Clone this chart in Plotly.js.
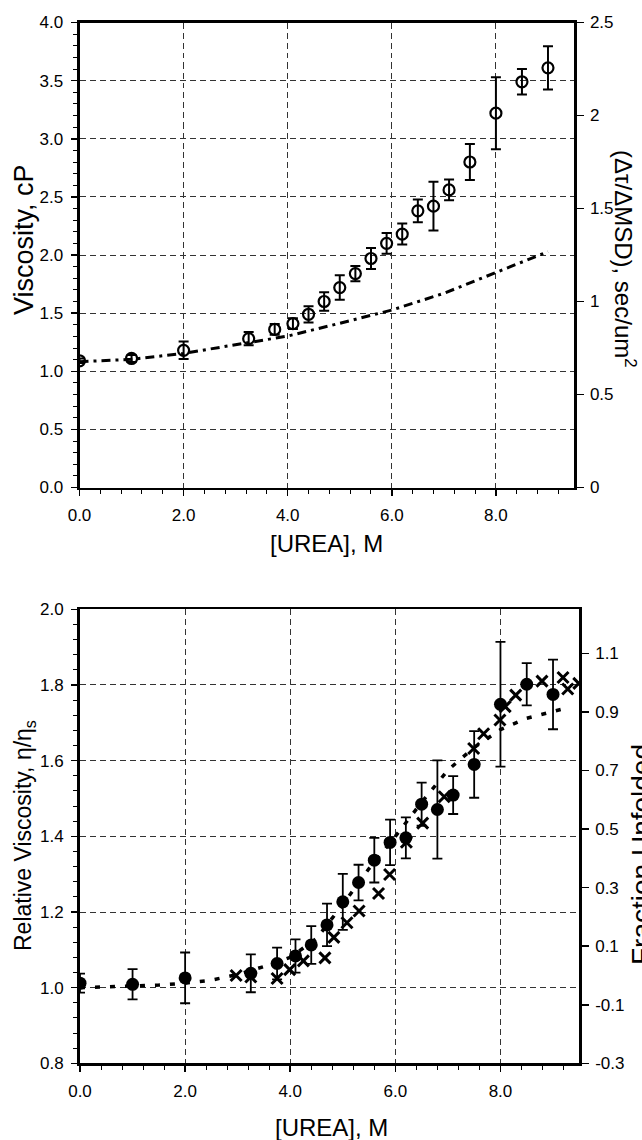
<!DOCTYPE html>
<html>
<head>
<meta charset="utf-8">
<script src="https://cdn.plot.ly/plotly-3.0.1.min.js"></script>
<style>
  html, body { margin: 0; padding: 0; background: #fff; }
  #chart { width: 642px; height: 1140px; }
</style>
</head>
<body>
<div id="chart"></div>
<script>
// ---------- Top panel: viscosity vs urea ----------
const ureaTop = [0, 1, 2, 3.25, 3.75, 4.1, 4.4, 4.7, 5.0, 5.3, 5.6, 5.9, 6.2, 6.5, 6.8, 7.1, 7.5, 8.0, 8.5, 9.0];
const viscTop = [1.09, 1.11, 1.18, 1.28, 1.36, 1.41, 1.49, 1.60, 1.72, 1.84, 1.97, 2.10, 2.18, 2.38, 2.42, 2.56, 2.80, 3.22, 3.49, 3.61];
const viscTopErr = [0.02, 0.03, 0.075, 0.057, 0.046, 0.046, 0.07, 0.08, 0.105, 0.065, 0.09, 0.09, 0.09, 0.098, 0.21, 0.09, 0.155, 0.31, 0.11, 0.186];
// dash-dot curve, right axis (Δτ/ΔMSD)
const msdX = [0, 1, 2, 3, 4, 5, 6, 7, 8, 9];
const msdY = [0.676, 0.689, 0.721, 0.769, 0.814, 0.883, 0.954, 1.044, 1.155, 1.268];

// ---------- Bottom panel: relative viscosity & fraction unfolded ----------
const ureaBot = [0, 1, 2, 3.25, 3.75, 4.1, 4.4, 4.7, 5.0, 5.3, 5.6, 5.9, 6.2, 6.5, 6.8, 7.1, 7.5, 8.0, 8.5, 9.0];
const relVisc = [1.012, 1.009, 1.026, 1.038, 1.064, 1.084, 1.113, 1.166, 1.227, 1.278, 1.337, 1.384, 1.396, 1.485, 1.471, 1.509, 1.590, 1.749, 1.802, 1.775];
const relViscErr = [0.025, 0.04, 0.067, 0.05, 0.042, 0.044, 0.05, 0.056, 0.074, 0.047, 0.059, 0.06, 0.054, 0.057, 0.13, 0.05, 0.088, 0.165, 0.056, 0.092];
const unfoldX = [2.97, 3.25, 3.75, 3.99, 4.25, 4.66, 4.83, 5.08, 5.31, 5.68, 5.89, 6.21, 6.52, 6.93, 7.49, 7.68, 7.99, 8.09, 8.29, 8.79, 9.19, 9.28, 9.49];
const unfoldY = [0.00, -0.005, -0.01, 0.02, 0.05, 0.06, 0.13, 0.18, 0.22, 0.28, 0.345, 0.455, 0.52, 0.61, 0.775, 0.825, 0.872, 0.918, 0.957, 1.005, 1.017, 0.978, 0.997];
const fitX = [0, 0.5, 1.0, 1.5, 2.0, 2.5, 3.0, 3.5, 4.0, 4.5, 5.0, 5.5, 6.0, 6.5, 7.0, 7.5, 8.0, 8.5, 9.0, 9.3];
const fitY = [1.000, 1.002, 1.004, 1.007, 1.012, 1.020, 1.035, 1.056, 1.080, 1.130, 1.220, 1.315, 1.400, 1.490, 1.575, 1.635, 1.682, 1.712, 1.730, 1.741];

// tick labels
const xTickVals = [0, 2, 4, 6, 8];
const xTickText = ['0.0', '2.0', '4.0', '6.0', '8.0'];
const topRightVals = [0, 0.5, 1, 1.5, 2, 2.5];
const topRightText = ['0', '0.5', '1', '1.5', '2', '2.5'];
const botRightVals = [-0.3, -0.1, 0.1, 0.3, 0.5, 0.7, 0.9, 1.1];
const botRightText = ['-0.3', '-0.1', '0.1', '0.3', '0.5', '0.7', '0.9', '1.1'];

const FONT = 'Liberation Sans, Arial, Helvetica, sans-serif';
const W = 642, H = 1140;
const px = v => v / W;
const py = v => 1 - v / H;

const traces = [
  { x: msdX, y: msdY, xaxis: 'x', yaxis: 'y2', mode: 'lines',
    line: { color: '#000', width: 3, dash: '9px,5px,3px,5px' }, hoverinfo: 'skip' },
  { x: ureaTop, y: viscTop, xaxis: 'x', yaxis: 'y', mode: 'markers',
    marker: { symbol: 'circle-open', size: 11, color: '#000', line: { width: 2.2, color: '#000' } },
    error_y: { type: 'data', array: viscTopErr, visible: true, color: '#000', thickness: 2, width: 5 } },
  { x: fitX, y: fitY, xaxis: 'x2', yaxis: 'y3', mode: 'lines',
    line: { color: '#000', width: 3.5, dash: '5px,10px' }, hoverinfo: 'skip' },
  { x: unfoldX, y: unfoldY, xaxis: 'x2', yaxis: 'y4', mode: 'markers',
    marker: { symbol: 'x-thin-open', size: 11, color: '#000', line: { width: 3, color: '#000' } } },
  { x: ureaBot, y: relVisc, xaxis: 'x2', yaxis: 'y3', mode: 'markers',
    marker: { symbol: 'circle', size: 13, color: '#000' },
    error_y: { type: 'data', array: relViscErr, visible: true, color: '#000', thickness: 1.8, width: 5 } }
];

const gridCommon = { showgrid: true, gridcolor: '#333', gridwidth: 1, griddash: '6px,4px', zeroline: false };
const tickFont = { family: FONT, size: 17, color: '#000' };

const layout = {
  width: W, height: H,
  margin: { l: 0, r: 0, t: 0, b: 0 },
  paper_bgcolor: '#fff', plot_bgcolor: '#fff',
  showlegend: false,
  font: { family: FONT, color: '#000' },
  xaxis: Object.assign({}, gridCommon, {
    domain: [px(79.5), px(574)], anchor: 'y', range: [0, 9.5],
    tickvals: xTickVals, ticktext: xTickText,
    ticks: 'outside', ticklen: 6, tickwidth: 1.5, tickcolor: '#000',
    ticklabelstandoff: 5, tickfont: tickFont,
    minor: { dtick: 0.4, tick0: 0, ticks: 'outside', ticklen: 4, tickwidth: 1, tickcolor: '#000', showgrid: false },
    showline: true, linewidth: 2.5, linecolor: '#000', mirror: true
  }),
  yaxis: Object.assign({}, gridCommon, {
    domain: [py(487.5), py(22.5)], anchor: 'x', range: [0, 4],
    dtick: 0.5, tick0: 0, tickformat: '.1f',
    ticks: 'outside', ticklen: 6, tickwidth: 1.5, tickcolor: '#000',
    ticklabelstandoff: 4, tickfont: tickFont,
    minor: { dtick: 0.1, tick0: 0, ticks: 'outside', ticklen: 4, tickwidth: 1, tickcolor: '#000', showgrid: false },
    showline: true, linewidth: 3, linecolor: '#000'
  }),
  yaxis2: {
    overlaying: 'y', side: 'right', anchor: 'x', range: [0, 2.5],
    tickvals: topRightVals, ticktext: topRightText,
    showgrid: false, zeroline: false,
    ticks: 'outside', ticklen: 7, tickwidth: 1.5, tickcolor: '#000',
    ticklabelstandoff: 3, tickfont: tickFont,
    showline: true, linewidth: 2.5, linecolor: '#000'
  },
  yaxis5: {
    overlaying: 'y', side: 'right', anchor: 'x', range: [0, 2.5],
    tickvals: topRightVals, showticklabels: false,
    showgrid: false, zeroline: false, showline: false,
    ticks: 'inside', ticklen: 6, tickwidth: 1.5, tickcolor: '#000'
  },
  xaxis2: Object.assign({}, gridCommon, {
    domain: [px(80), px(579.3)], anchor: 'y3', range: [0, 9.5],
    tickvals: xTickVals, ticktext: xTickText,
    ticks: 'outside', ticklen: 6, tickwidth: 1.5, tickcolor: '#000',
    ticklabelstandoff: 5, tickfont: tickFont,
    minor: { dtick: 0.4, tick0: 0, ticks: 'outside', ticklen: 4, tickwidth: 1, tickcolor: '#000', showgrid: false },
    showline: true, linewidth: 2.5, linecolor: '#000', mirror: true
  }),
  yaxis3: Object.assign({}, gridCommon, {
    domain: [py(1063.4), py(609.3)], anchor: 'x2', range: [0.8, 2.0],
    dtick: 0.2, tick0: 0.8, tickformat: '.1f',
    ticks: 'outside', ticklen: 6, tickwidth: 1.5, tickcolor: '#000',
    ticklabelstandoff: 4, tickfont: tickFont,
    minor: { dtick: 0.04, tick0: 0.8, ticks: 'outside', ticklen: 4, tickwidth: 1, tickcolor: '#000', showgrid: false },
    showline: true, linewidth: 3, linecolor: '#000'
  }),
  yaxis4: {
    overlaying: 'y3', side: 'right', anchor: 'x2', range: [-0.3, 1.25],
    tickvals: botRightVals, ticktext: botRightText,
    showgrid: false, zeroline: false,
    ticks: 'outside', ticklen: 7, tickwidth: 1.5, tickcolor: '#000',
    ticklabelstandoff: 3, tickfont: tickFont,
    showline: true, linewidth: 2.5, linecolor: '#000'
  },
  yaxis6: {
    overlaying: 'y3', side: 'right', anchor: 'x2', range: [-0.3, 1.25],
    tickvals: botRightVals, showticklabels: false,
    showgrid: false, zeroline: false, showline: false,
    ticks: 'inside', ticklen: 6, tickwidth: 1.5, tickcolor: '#000'
  },
  annotations: [
    { text: '[UREA], M', xref: 'paper', yref: 'paper', x: px(326.7), y: py(543),
      xanchor: 'center', yanchor: 'middle', showarrow: false, font: { family: FONT, size: 24, color: '#000' } },
    { text: '[UREA], M', xref: 'paper', yref: 'paper', x: px(331), y: py(1127),
      xanchor: 'center', yanchor: 'middle', showarrow: false, font: { family: FONT, size: 24, color: '#000' } },
    { text: 'Viscosity, cP', xref: 'paper', yref: 'paper', x: px(24.5), y: py(239.5), textangle: -90,
      xanchor: 'center', yanchor: 'middle', showarrow: false, font: { family: FONT, size: 27, color: '#000' } },
    { text: '(Δτ/ΔMSD), sec/um<sup>2</sup>', xref: 'paper', yref: 'paper', x: px(625), y: py(259), textangle: 90,
      xanchor: 'center', yanchor: 'middle', showarrow: false, font: { family: FONT, size: 24, color: '#000' } },
    { text: 'Relative Viscosity, η/η<sub>s</sub>', xref: 'paper', yref: 'paper', x: px(24.5), y: py(835.5), textangle: -90,
      xanchor: 'center', yanchor: 'middle', showarrow: false, font: { family: FONT, size: 23, color: '#000' } },
    { text: 'Fraction Unfolded', xref: 'paper', yref: 'paper', x: px(641), y: py(855), textangle: -90,
      xanchor: 'center', yanchor: 'middle', showarrow: false, font: { family: FONT, size: 28, color: '#000' } }
  ]
};

Plotly.newPlot('chart', traces, layout, { staticPlot: true, displayModeBar: false });
</script>
</body>
</html>
